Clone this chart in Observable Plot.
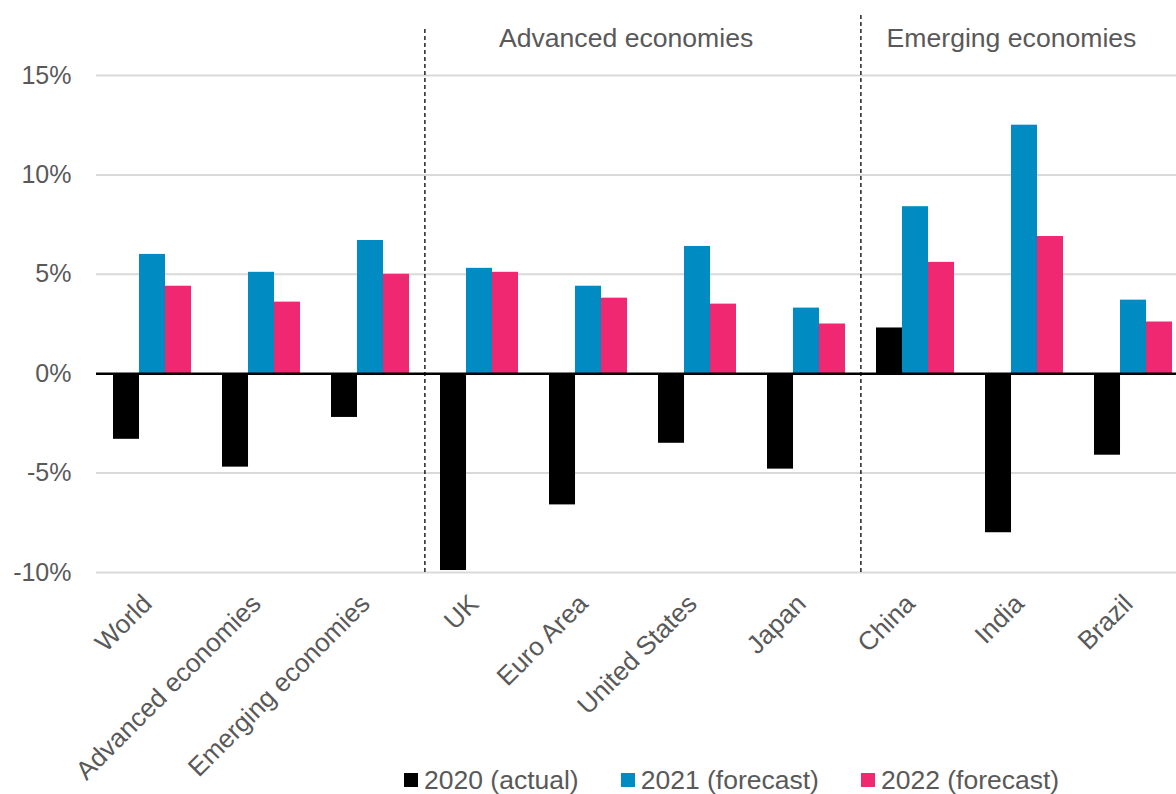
<!DOCTYPE html>
<html>
<head>
<meta charset="utf-8">
<script src="https://cdn.jsdelivr.net/npm/d3@7"></script>
<script src="https://cdn.jsdelivr.net/npm/@observablehq/plot@0.6"></script>
<style>
  html, body { margin: 0; padding: 0; background: #fff; overflow: hidden; width: 1176px; height: 794px; }
  #chart svg { overflow: hidden; display: block; }
  #legend { position: absolute; left: 404px; top: 766px; height: 28px; display: flex; align-items: center;
    font-family: "Liberation Sans", Arial, sans-serif; font-size: 26.5px; color: #595959; line-height: 28px; white-space: nowrap; }
  #legend .item { display: flex; align-items: center; margin-right: 42px; }
  #legend .sw { width: 14px; height: 14px; margin-right: 6px; display: inline-block; }
</style>
</head>
<body>
<div id="chart"></div>
<div id="legend"></div>
<script>
const categories = ["World", "Advanced economies", "Emerging economies", "UK", "Euro Area", "United States", "Japan", "China", "India", "Brazil"];
const v2020 = [-3.3, -4.7, -2.2, -9.9, -6.6, -3.5, -4.8, 2.3, -8.0, -4.1];
const v2021 = [6.0, 5.1, 6.7, 5.3, 4.4, 6.4, 3.3, 8.4, 12.5, 3.7];
const v2022 = [4.4, 3.6, 5.0, 5.1, 3.8, 3.5, 2.5, 5.6, 6.9, 2.6];
const seriesNames = ["2020 (actual)", "2021 (forecast)", "2022 (forecast)"];
const seriesColors = ["#000000", "#008bc2", "#ef2871"];
const yTicks = [-10, -5, 0, 5, 10, 15];
const gridTicks = [-10, -5, 5, 10, 15];
// dashed dividers: placed before the given category, running up to the given value
const dividers = [{before: "UK", top: 17.35}, {before: "China", top: 18.15}];
const groupLabels = ["Advanced economies", "Emerging economies"];

const table = categories.map((c, i) => ({category: c, a: v2020[i], b: v2021[i], c: v2022[i]}));

const W = 1176, H = 794;
const xRange = [96.4, 1188.4];
const step = (xRange[1] - xRange[0]) / categories.length;
const bw = step * (1 - 0.286);
const barW = bw / 3;
const font = '"Liberation Sans", Arial, sans-serif';

const chart = Plot.plot({
  width: W,
  height: H,
  marginTop: 75,
  marginBottom: 222,
  marginLeft: 96,
  marginRight: 0,
  style: {fontFamily: font, fontSize: "25px", color: "#595959", background: "#fff"},
  x: {domain: categories, range: xRange, paddingInner: 0.286, paddingOuter: 0.143,
      tickRotate: -45, tickSize: 0, tickPadding: 27, label: null},
  y: {domain: [-10, 15], ticks: yTicks, tickFormat: d => d + "%", tickSize: 0, tickPadding: 25, label: null},
  marks: [
    Plot.ruleY(gridTicks, {stroke: "#d9d9d9", strokeWidth: 2}),
    Plot.barY(table, {x: "category", y: "a", fill: seriesColors[0], insetRight: 2 * barW}),
    Plot.barY(table, {x: "category", y: "b", fill: seriesColors[1], insetLeft: barW, insetRight: barW}),
    Plot.barY(table, {x: "category", y: "c", fill: seriesColors[2], insetLeft: 2 * barW}),
    Plot.ruleY([0], {stroke: "#000", strokeWidth: 2.5}),
    Plot.ruleX(dividers, {x: "before", y1: -10, y2: "top", dx: -step / 2, stroke: "#000", strokeWidth: 1.3, strokeDasharray: "4,3", clip: false}),
    Plot.text([groupLabels[0]], {x: () => "Euro Area", frameAnchor: "top", lineAnchor: "middle", dy: -37, dx: step / 2 - 17, text: d => d, fontSize: 26.6, fill: "#595959"}),
    Plot.text([groupLabels[1]], {x: () => "India", frameAnchor: "top", lineAnchor: "middle", dy: -37, dx: -13, text: d => d, fontSize: 26.6, fill: "#595959"})
  ]
});
chart.querySelectorAll("g[aria-label*='x-axis']").forEach(g => {
  const tr = g.getAttribute("transform") || "";
  g.setAttribute("transform", (tr + " translate(-5,0)").trim());
  g.querySelectorAll("text").forEach(t => { t.setAttribute("font-size", "26"); t.style.fontSize = "26px"; });
});
document.getElementById("chart").appendChild(chart);

const legend = document.getElementById("legend");
seriesNames.forEach((name, i) => {
  const item = document.createElement("div");
  item.className = "item";
  const sw = document.createElement("span");
  sw.className = "sw";
  sw.style.background = seriesColors[i];
  const label = document.createElement("span");
  label.textContent = name;
  item.appendChild(sw);
  item.appendChild(label);
  legend.appendChild(item);
});
</script>
</body>
</html>
